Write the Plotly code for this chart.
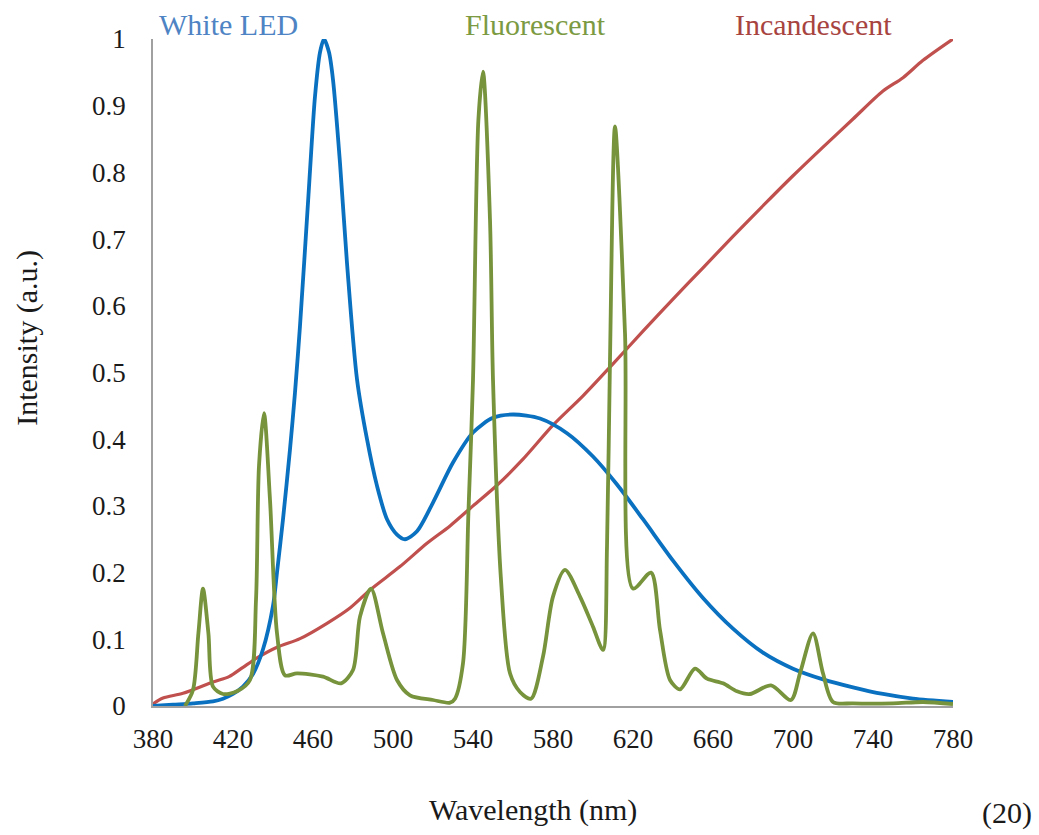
import plotly.graph_objects as go

# ---------------- data ----------------
led_wl = [380, 390, 400, 410, 415, 420, 425, 430, 435, 440, 442, 445, 448.5, 451, 453.5,
          457.7, 461, 463.5, 465.5, 468, 470, 473.5, 477, 482, 487, 492, 497, 502, 506,
          512, 520, 530, 540, 550, 560, 573.5, 587, 600, 612, 625, 640,
          655, 670, 685, 700, 715, 730, 745, 760, 780]
led_int = [0.0, 0.002, 0.004, 0.007, 0.011, 0.018, 0.029, 0.048, 0.085, 0.15, 0.2, 0.28,
           0.385, 0.47, 0.57, 0.764, 0.914, 0.98, 1.0, 0.98, 0.939, 0.814, 0.664, 0.49,
           0.40, 0.33, 0.28, 0.257, 0.25, 0.262, 0.305, 0.365, 0.41, 0.432,
           0.437, 0.431, 0.409, 0.374, 0.332, 0.28, 0.218, 0.162, 0.116, 0.08, 0.056,
           0.04, 0.028, 0.018, 0.011, 0.006]

inc_wl = [380, 385, 395, 410, 418, 425, 432, 442, 453.5, 467, 478.5, 488.5, 503.5, 517,
          528.5, 540, 552, 565, 580, 595, 610, 625, 640, 655, 670, 685, 700,
          715, 730, 745, 755, 765, 780]
inc_int = [0.003, 0.012, 0.019, 0.036, 0.044, 0.058, 0.072, 0.088, 0.101, 0.124, 0.147,
           0.174, 0.209, 0.244, 0.27, 0.3, 0.331, 0.37, 0.421, 0.465, 0.513, 0.562,
           0.61, 0.657, 0.704, 0.75, 0.795, 0.838, 0.88, 0.922, 0.942, 0.968, 1.0]

flu_wl = [396, 400, 402.7, 405, 407.7, 410, 415, 422, 428.5, 431.5, 433, 435.5, 438.5,
          442, 446, 452, 465, 474, 480, 483.5, 489, 495, 502, 508.5, 520, 528.5, 531,
          535, 537.7, 540, 542.7, 545, 548.5, 550, 554, 558.5, 563.5, 569, 575, 580, 586,
          593.5, 600, 605, 607, 608.5, 611, 616, 620, 629, 633.5, 638.5, 643.5, 651, 657,
          665, 672, 678.5, 689, 699, 703.5, 710, 715, 720, 730, 750, 765, 780]
flu_int = [0.0, 0.024, 0.109, 0.176, 0.109, 0.029, 0.018, 0.022, 0.039, 0.159, 0.36,
           0.439, 0.309, 0.109, 0.046, 0.049, 0.044, 0.034, 0.054, 0.134, 0.176, 0.109,
           0.039, 0.016, 0.009, 0.005, 0.011, 0.064, 0.289, 0.489, 0.879, 0.951, 0.729,
           0.489, 0.189, 0.049, 0.021, 0.011, 0.074, 0.164, 0.204, 0.164, 0.119, 0.084,
           0.239, 0.52, 0.869, 0.559, 0.176, 0.2, 0.114, 0.039, 0.025, 0.056, 0.041,
           0.034, 0.022, 0.018, 0.031, 0.009, 0.049, 0.109, 0.049, 0.006, 0.004, 0.004,
           0.006, 0.003]

x_ticks = [380, 420, 460, 500, 540, 580, 620, 660, 700, 740, 780]
y_ticks = [0, 0.1, 0.2, 0.3, 0.4, 0.5, 0.6, 0.7, 0.8, 0.9, 1]
y_tick_text = ["0", "0.1", "0.2", "0.3", "0.4", "0.5", "0.6", "0.7", "0.8", "0.9", "1"]

FONT = "Liberation Serif"

fig = go.Figure()
fig.add_trace(go.Scatter(x=inc_wl, y=inc_int, mode="lines", name="Incandescent",
                         line=dict(color="#c0504d", width=3.2, shape="spline", smoothing=0.8)))
fig.add_trace(go.Scatter(x=led_wl, y=led_int, mode="lines", name="White LED",
                         line=dict(color="#0a70c0", width=3.8, shape="spline", smoothing=0.8)))
fig.add_trace(go.Scatter(x=flu_wl, y=flu_int, mode="lines", name="Fluorescent",
                         line=dict(color="#77933c", width=3.8, shape="spline", smoothing=0.8)))

fig.update_layout(
    width=1039, height=835,
    margin=dict(l=153, r=86, t=39, b=129),
    paper_bgcolor="white", plot_bgcolor="white",
    showlegend=False,
    font=dict(family=FONT, size=27, color="#1a1a1a"),
    xaxis=dict(range=[380, 780], tickvals=x_ticks, showgrid=False, zeroline=False,
               showline=True, linecolor="#a0a0a0", linewidth=1.5, ticks="",
               ticklabelstandoff=8, tickfont=dict(family=FONT, size=27, color="#1a1a1a")),
    yaxis=dict(range=[0, 1], tickvals=y_ticks, ticktext=y_tick_text, showgrid=False,
               zeroline=False, showline=True, linecolor="#a0a0a0", linewidth=1.5, ticks="",
               ticklabelstandoff=20, tickfont=dict(family=FONT, size=27, color="#1a1a1a")),
)

annots = [
    dict(text="White LED", x=0.005, y=1.021, xanchor="left", color="#4f84c4"),
    dict(text="Fluorescent", x=0.4775, y=1.021, xanchor="center", color="#7b9a42"),
    dict(text="Incandescent", x=0.825, y=1.021, xanchor="center", color="#a8443f"),
]
for a in annots:
    fig.add_annotation(text=a["text"], x=a["x"], y=a["y"], xref="paper", yref="paper",
                       xanchor=a["xanchor"], yanchor="middle", showarrow=False,
                       font=dict(family=FONT, size=30, color=a["color"]))

fig.add_annotation(text="Wavelength (nm)", x=0.475, y=-0.156, xref="paper", yref="paper",
                   xanchor="center", yanchor="middle", showarrow=False,
                   font=dict(family=FONT, size=30, color="#1a1a1a"))
fig.add_annotation(text="Intensity (a.u.)", x=-0.1575, y=0.552, xref="paper", yref="paper",
                   xanchor="center", yanchor="middle", textangle=-90, showarrow=False,
                   font=dict(family=FONT, size=30, color="#1a1a1a"))
fig.add_annotation(text="(20)", x=1.0675, y=-0.160, xref="paper", yref="paper",
                   xanchor="center", yanchor="middle", showarrow=False,
                   font=dict(family=FONT, size=30, color="#1a1a1a"))

fig.write_html("out.html")
